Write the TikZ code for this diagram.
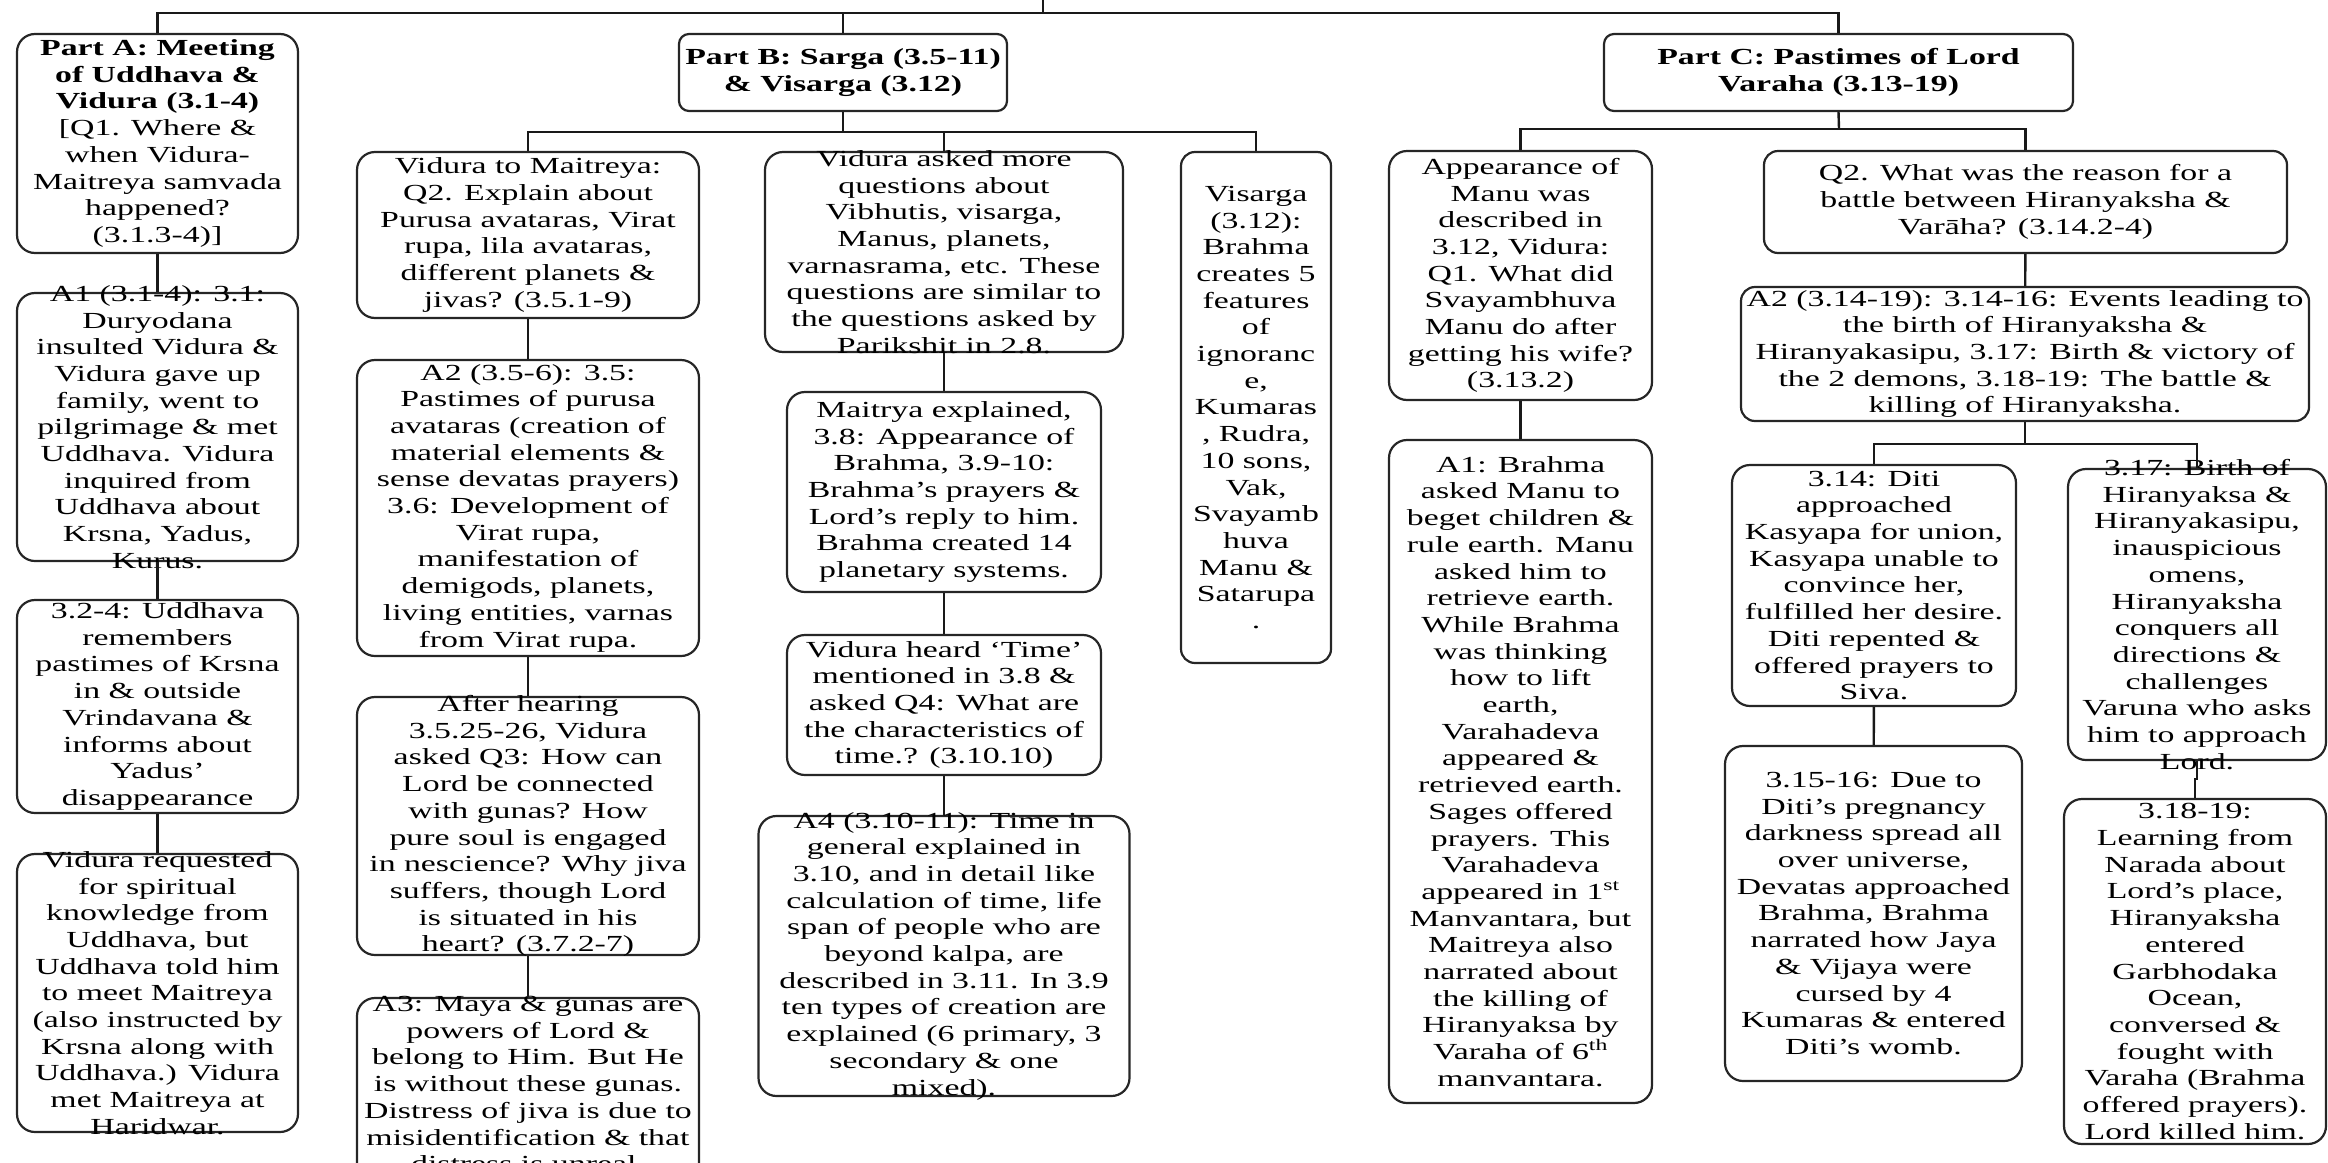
\documentclass[tikz,border=0pt]{standalone}
\usepackage{fontspec}
\setmainfont{Liberation Serif}[FakeStretch=1.47]
\tikzset{
  box/.style={draw=black!85, line width=2.2pt, rounded corners=18pt, inner sep=0pt},
  hbox/.style={box, rounded corners=10pt},
  txt/.style={align=center, inner sep=0pt, font=\fontsize{23}{26.7}\selectfont},
  htxt/.style={txt, font=\fontsize{23}{26.7}\selectfont\bfseries},
  link/.style={line width=2.4pt, black!90}
}
\begin{document}
\begin{tikzpicture}[x=1pt, y=-1pt]
  \useasboundingbox (0,0) rectangle (2328,1162);
  \clip (0,0) rectangle (2328,1162);
  \coordinate (root) at (1043,0);
  \coordinate (top) at (1043,13);
  \coordinate (bbus) at (843,132);
  \coordinate (cbus) at (1839,129);
  \coordinate (dbus) at (2025,444);
  % Part A column
  \node[box, minimum width=281pt, minimum height=219pt] (parta) at (157.5,143.5) {};
  \node[box, minimum width=281pt, minimum height=268pt] (a1) at (157.5,427) {};
  \node[box, minimum width=281pt, minimum height=213pt] (a32) at (157.5,706.5) {};
  \node[box, minimum width=281pt, minimum height=278pt] (avr) at (157.5,993) {};
  \node[txt] (paratt) at (parta) {\textbf{Part A: Meeting}\\\textbf{of Uddhava \&}\\\textbf{Vidura (3.1-4)}\\{[}Q1. Where \&\\when Vidura-\\Maitreya samvada\\happened?\\(3.1.3-4)]};
  \node[txt] (a1t) at (a1) {A1 (3.1-4): 3.1:\\Duryodana\\insulted Vidura \&\\Vidura gave up\\family, went to\\pilgrimage \& met\\Uddhava. Vidura\\inquired from\\Uddhava about\\Krsna, Yadus,\\Kurus.};
  \node[txt] (a32t) at (a32) {3.2-4: Uddhava\\remembers\\pastimes of Krsna\\in \& outside\\Vrindavana \&\\informs about\\Yadus’\\disappearance};
  \node[txt] (avrt) at (avr) {Vidura requested\\for spiritual\\knowledge from\\Uddhava, but\\Uddhava told him\\to meet Maitreya\\(also instructed by\\Krsna along with\\Uddhava.) Vidura\\met Maitreya at\\Haridwar.};
  % Part B
  \node[hbox, minimum width=328pt, minimum height=77pt] (partb) at (843,72.5) {};
  \node[htxt] (partbt) at (partb) {Part B: Sarga (3.5-11)\\\& Visarga (3.12)};
  \node[box, minimum width=342pt, minimum height=166pt] (vtm) at (528,235) {};
  \node[box, minimum width=342pt, minimum height=296pt] (a2) at (528,508) {};
  \node[box, minimum width=342pt, minimum height=258pt] (q3) at (528,826) {};
  \node[box, minimum width=342pt, minimum height=188pt] (a3) at (528,1092) {};
  \node[txt] (vtmt) at (vtm) {Vidura to Maitreya:\\Q2. Explain about\\Purusa avataras, Virat\\rupa, lila avataras,\\different planets \&\\jivas? (3.5.1-9)};
  \node[txt] (a2t) at (a2) {A2 (3.5-6): 3.5:\\Pastimes of purusa\\avataras (creation of\\material elements \&\\sense devatas prayers)\\3.6: Development of\\Virat rupa,\\manifestation of\\demigods, planets,\\living entities, varnas\\from Virat rupa.};
  \node[txt] (q3t) at (q3) {After hearing\\3.5.25-26, Vidura\\asked Q3: How can\\Lord be connected\\with gunas? How\\pure soul is engaged\\in nescience? Why jiva\\suffers, though Lord\\is situated in his\\heart? (3.7.2-7)};
  \node[txt, anchor=north] (a3t) at (528,996) {A3: Maya \& gunas are\\powers of Lord \&\\belong to Him. But He\\is without these gunas.\\Distress of jiva is due to\\misidentification \& that\\distress is unreal.};
  \node[box, minimum width=358pt, minimum height=200pt] (vam) at (944,252) {};
  \node[box, minimum width=314pt, minimum height=200pt] (maitrya) at (944,492) {};
  \node[box, minimum width=314pt, minimum height=140pt] (qtime) at (944,705) {};
  \node[box, minimum width=371pt, minimum height=280pt] (a4) at (944,956) {};
  \node[txt] (vamt) at (vam) {Vidura asked more\\questions about\\Vibhutis, visarga,\\Manus, planets,\\varnasrama, etc. These\\questions are similar to\\the questions asked by\\Parikshit in 2.8.};
  \node[txt] (maitryat) at (maitrya) {Maitrya explained,\\3.8: Appearance of\\Brahma, 3.9-10:\\Brahma’s prayers \&\\Lord’s reply to him.\\Brahma created 14\\planetary systems.};
  \node[txt] (qtimet) at (qtime) {Vidura heard ‘Time’\\mentioned in 3.8 \&\\asked Q4: What are\\the characteristics of\\time.? (3.10.10)};
  \node[txt] (a4t) at (a4) {A4 (3.10-11): Time in\\general explained in\\3.10, and in detail like\\calculation of time, life\\span of people who are\\beyond kalpa, are\\described in 3.11. In 3.9\\ten types of creation are\\explained (6 primary, 3\\secondary \& one\\mixed).};
  \node[box, rounded corners=14pt, minimum width=150pt, minimum height=511pt] (visarga) at (1256,407.5) {};
  \node[txt] (visargat) at (visarga) {Visarga\\(3.12):\\Brahma\\creates 5\\features\\of\\ignoranc\\e,\\Kumaras\\, Rudra,\\10 sons,\\Vak,\\Svayamb\\huva\\Manu \&\\Satarupa\\.};
  % Part C
  \node[hbox, minimum width=469pt, minimum height=77pt] (partc) at (1838.5,72.5) {};
  \node[htxt] (partct) at (partc) {Part C: Pastimes of Lord\\Varaha (3.13-19)};
  \node[box, minimum width=263pt, minimum height=249pt] (manuq) at (1520.5,275.5) {};
  \node[box, minimum width=263pt, minimum height=663pt] (manua) at (1520.5,771.5) {};
  \node[txt] (manuqt) at (manuq) {Appearance of\\Manu was\\described in\\3.12, Vidura:\\Q1. What did\\Svayambhuva\\Manu do after\\getting his wife?\\(3.13.2)};
  \node[txt] (manuat) at (manua) {A1: Brahma\\asked Manu to\\beget children \&\\rule earth. Manu\\asked him to\\retrieve earth.\\While Brahma\\was thinking\\how to lift\\earth,\\Varahadeva\\appeared \&\\retrieved earth.\\Sages offered\\prayers. This\\Varahadeva\\appeared in 1\textsuperscript{st}\\Manvantara, but\\Maitreya also\\narrated about\\the killing of\\Hiranyaksa by\\Varaha of 6\textsuperscript{th}\\manvantara.};
  \node[box, rounded corners=14pt, minimum width=523pt, minimum height=102pt] (q2) at (2025.5,202) {};
  \node[box, rounded corners=14pt, minimum width=568pt, minimum height=134pt] (ca2) at (2025,354) {};
  \node[txt] (q2t) at (q2) {Q2. What was the reason for a\\battle between Hiranyaksha \&\\Varāha? (3.14.2-4)};
  \node[txt] (ca2t) at (ca2) {A2 (3.14-19): 3.14-16: Events leading to\\the birth of Hiranyaksha \&\\Hiranyakasipu, 3.17: Birth \& victory of\\the 2 demons, 3.18-19: The battle \&\\killing of Hiranyaksha.};
  \node[box, minimum width=284pt, minimum height=241pt] (diti) at (1874,585.5) {};
  \node[box, minimum width=297pt, minimum height=335pt] (diti2) at (1873.5,913.5) {};
  \node[box, minimum width=258pt, minimum height=291pt] (birth) at (2197,614.5) {};
  \node[box, minimum width=262pt, minimum height=345pt] (hdef) at (2195,971.5) {};
  \node[txt] (ditit) at (diti) {3.14: Diti\\approached\\Kasyapa for union,\\Kasyapa unable to\\convince her,\\fulfilled her desire.\\Diti repented \&\\offered prayers to\\Siva.};
  \node[txt] (diti2t) at (diti2) {3.15-16: Due to\\Diti’s pregnancy\\darkness spread all\\over universe,\\Devatas approached\\Brahma, Brahma\\narrated how Jaya\\\& Vijaya were\\cursed by 4\\Kumaras \& entered\\Diti’s womb.};
  \node[txt] (birtht) at (birth) {3.17: Birth of\\Hiranyaksa \&\\Hiranyakasipu,\\inauspicious\\omens,\\Hiranyaksha\\conquers all\\directions \&\\challenges\\Varuna who asks\\him to approach\\Lord.};
  \node[txt] (hdeft) at (hdef) {3.18-19:\\Learning from\\Narada about\\Lord’s place,\\Hiranyaksha\\entered\\Garbhodaka\\Ocean,\\conversed \&\\fought with\\Varaha (Brahma\\offered prayers).\\Lord killed him.};
  % connectors
  \draw[link] (root) -- (top);
  \draw[link] (parta.north) |- (top) -| (partc.north);
  \draw[link] (partb.north) |- (top);
  \draw[link] (parta) -- (a1);
  \draw[link] (a1) -- (a32);
  \draw[link] (a32) -- (avr);
  \draw[link] (partb.south) -- (bbus);
  \draw[link] (vtm.north) |- (bbus) -| (visarga.north);
  \draw[link] (vam.north) |- (bbus);
  \draw[link] (vtm) -- (a2);
  \draw[link] (a2) -- (q3);
  \draw[link] (q3) -- (a3);
  \draw[link] (vam) -- (maitrya);
  \draw[link] (maitrya) -- (qtime);
  \draw[link] (qtime) -- (a4);
  \draw[link] (partc.south) -- (cbus);
  \draw[link] (manuq.north) |- (cbus) -| (q2.north);
  \draw[link] (manuq) -- (manua);
  \draw[link] (q2) -- (ca2);
  \draw[link] (ca2.south) -- (dbus);
  \draw[link] (diti.north) |- (dbus) -| (birth.north);
  \draw[link] (diti) -- (diti2);
  \draw[link] (birth.south) -- ++(0,18) -| (hdef.north);
\end{tikzpicture}
\end{document}
